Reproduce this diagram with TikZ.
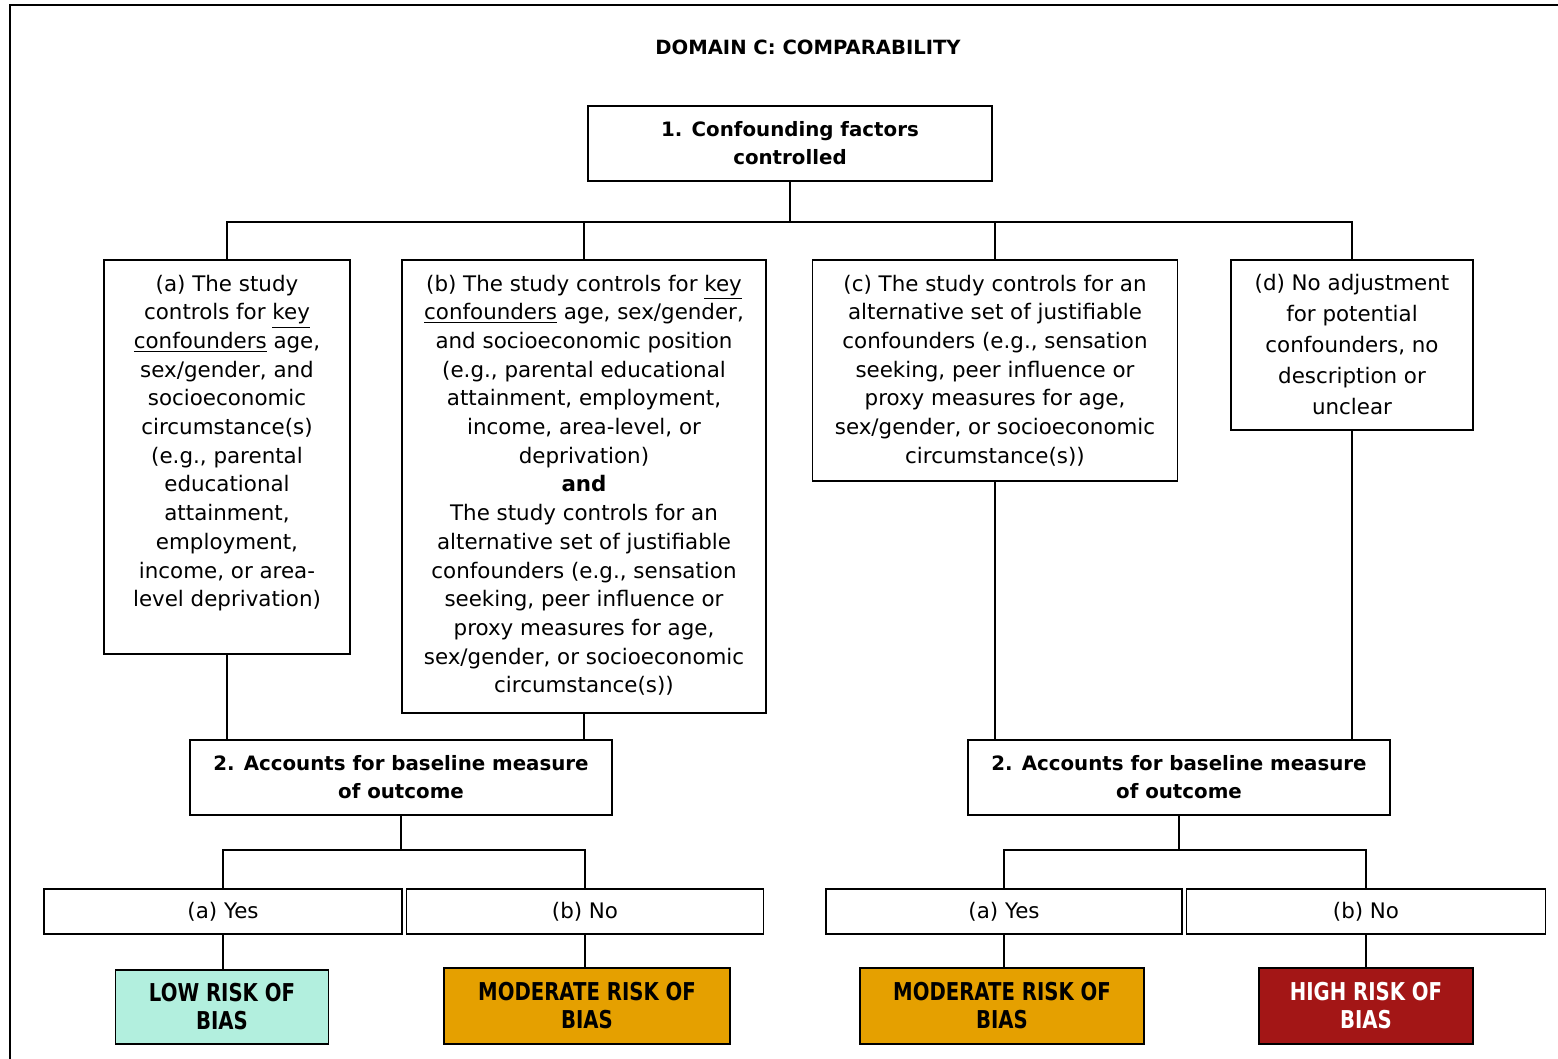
\documentclass[tikz,border=0pt]{standalone}
\usepackage{fontspec}
\setmainfont{DejaVu Sans}
\newfontfamily\riskfont{DejaVu Sans Bold}[FakeStretch=0.8]

% one coordinate unit = one pixel of a 1558 x 1059 canvas, y pointing down
\tikzset{
  frame/.style={draw=black, line width=0.9pt},
  headbox/.style={frame, inner sep=0pt, align=center,
    font=\fontsize{9.9}{14}\selectfont\bfseries},
  optbox/.style={frame, inner sep=0pt},
  ansbox/.style={frame, inner sep=0pt, font=\fontsize{10.7}{14}\selectfont},
  riskbox/.style={frame, inner sep=0pt, align=center,
    font=\fontsize{12.3}{14}\selectfont\riskfont},
  link/.style={draw=black, line width=0.9pt},
}
% top-aligned, centred text block of a fixed size
\newcommand\optext[5]{\parbox[c][#2][t]{#1}{\centering
  \fontsize{10.7}{#4}\selectfont\rule{0pt}{#3}#5}}

\begin{document}
\begin{tikzpicture}[x=0.5pt, y=-0.5pt]
\useasboundingbox (0,0) rectangle (1558,1059);
% page frame
\draw[line width=1.3pt] (10,1059) -- (10,5) -- (1558,5);

\node[font=\fontsize{9.8}{12}\selectfont\bfseries] (title) at (808,47)
  {DOMAIN C: COMPARABILITY};

\node[headbox, minimum width=202pt, minimum height=37.5pt] (q1) at (790,143.5)
  {1. Confounding factors\\controlled};

\node[optbox] (a) at (227,457) {\optext{123pt}{197pt}{15.5pt}{14.35pt}{%
  (a) The study\\
  controls for \underline{key}\\
  \underline{confounders} age,\\
  sex/gender, and\\
  socioeconomic\\
  circumstance(s)\\
  (e.g., parental\\
  educational\\
  attainment,\\
  employment,\\
  income, or area-\\
  level deprivation)}};

\node[optbox] (b) at (584,486.5) {\optext{182pt}{226.5pt}{15.5pt}{14.35pt}{%
  (b) The study controls for \underline{key}\\
  \underline{confounders} age, sex/gender,\\
  and socioeconomic position\\
  (e.g., parental educational\\
  attainment, employment,\\
  income, area-level, or\\
  deprivation)\\
  \textbf{and}\\
  The study controls for an\\
  alternative set of justifiable\\
  confounders (e.g., sensation\\
  seeking, peer influence or\\
  proxy measures for age,\\
  sex/gender, or socioeconomic\\
  circumstance(s))}};

\node[optbox] (c) at (995,370.5) {\optext{182.5pt}{110.5pt}{15.5pt}{14.35pt}{%
  (c) The study controls for an\\
  alternative set of justifiable\\
  confounders (e.g., sensation\\
  seeking, peer influence or\\
  proxy measures for age,\\
  sex/gender, or socioeconomic\\
  circumstance(s))}};

\node[optbox] (d) at (1352,345) {\optext{121pt}{85pt}{15.5pt}{15.4pt}{%
  (d) No adjustment\\
  for potential\\
  confounders, no\\
  description or\\
  unclear}};

\node[headbox, minimum width=211pt, minimum height=37.5pt] (q2l) at (401,777.5)
  {2. Accounts for baseline measure\\of outcome};
\node[headbox, minimum width=211pt, minimum height=37.5pt] (q2r) at (1179,777.5)
  {2. Accounts for baseline measure\\of outcome};

\node[ansbox, minimum width=179pt, minimum height=22.5pt] (yl) at (223,911.5) {(a) Yes};
\node[ansbox, minimum width=178.5pt, minimum height=22.5pt] (nl) at (585,911.5) {(b) No};
\node[ansbox, minimum width=178pt, minimum height=22.5pt] (yr) at (1004,911.5) {(a) Yes};
\node[ansbox, minimum width=179.5pt, minimum height=22.5pt] (nr) at (1366,911.5) {(b) No};

\definecolor{lowrisk}{HTML}{B2EFDE}
\definecolor{modrisk}{HTML}{E5A000}
\definecolor{highrisk}{HTML}{A31616}
\node[riskbox, fill=lowrisk, minimum width=106.5pt, minimum height=37pt]
  (low) at (222,1007) {LOW RISK OF\\BIAS};
\node[riskbox, fill=modrisk, minimum width=143pt, minimum height=38pt]
  (modl) at (587,1006) {MODERATE RISK OF\\BIAS};
\node[riskbox, fill=modrisk, minimum width=142pt, minimum height=38pt]
  (modr) at (1002,1006) {MODERATE RISK OF\\BIAS};
\node[riskbox, fill=highrisk, text=white, minimum width=107pt, minimum height=38pt]
  (high) at (1366,1006) {HIGH RISK OF\\BIAS};

% branching lines
\coordinate (bus1) at (0,222);
\coordinate (bus2) at (0,850);
\path[link] (q1.south) -- (q1.south |- bus1);
\path[link] (a.north) -- (a.north |- bus1) -- (d.north |- bus1) -- (d.north);
\path[link] (b.north) -- (b.north |- bus1);
\path[link] (c.north) -- (c.north |- bus1);

\path[link] (a.south) -- (a.south |- q2l.north);
\path[link] (b.south) -- (b.south |- q2l.north);
\path[link] (c.south) -- (c.south |- q2r.north);
\path[link] (d.south) -- (d.south |- q2r.north);

\path[link] (q2l.south) -- (q2l.south |- bus2);
\path[link] (yl.north) -- (yl.north |- bus2) -- (nl.north |- bus2) -- (nl.north);
\path[link] (q2r.south) -- (q2r.south |- bus2);
\path[link] (yr.north) -- (yr.north |- bus2) -- (nr.north |- bus2) -- (nr.north);

\path[link] (yl.south) -- (yl.south |- low.north);
\path[link] (nl.south) -- (nl.south |- modl.north);
\path[link] (yr.south) -- (yr.south |- modr.north);
\path[link] (nr.south) -- (nr.south |- high.north);
\end{tikzpicture}
\end{document}
